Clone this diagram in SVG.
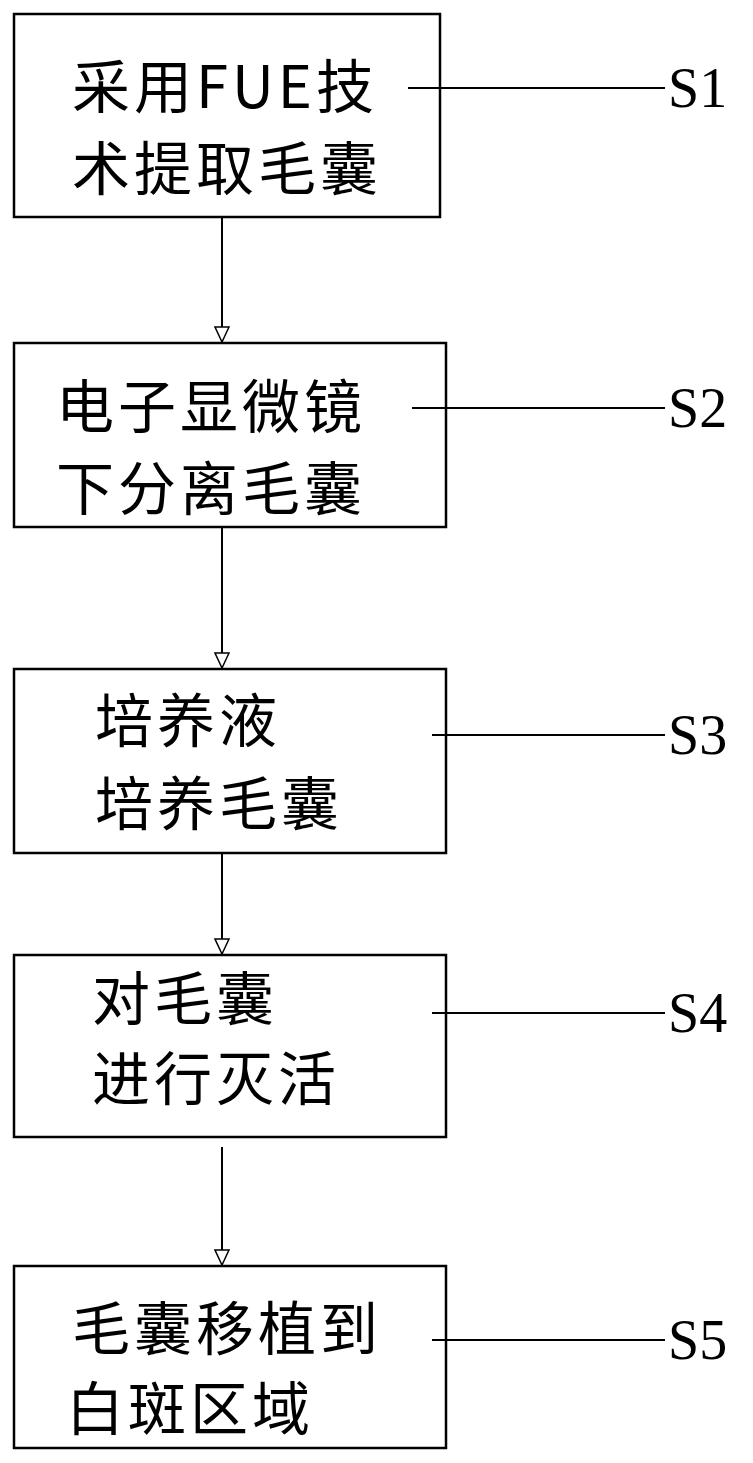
<svg xmlns="http://www.w3.org/2000/svg" width="753" height="1463" viewBox="0 0 753 1463">
<style>
.b{fill:#fff;stroke:#000;stroke-width:2.5}
.t{font-family:"Noto Sans CJK SC","Liberation Serif",serif;font-size:58px;letter-spacing:4px;fill:#000}
.s{font-family:"Liberation Serif",serif;font-size:56px;fill:#000}
.l{stroke:#000;stroke-width:2}
</style>
<defs><marker id="a" markerWidth="18" markerHeight="16" refX="16" refY="8" orient="auto" markerUnits="userSpaceOnUse"><path d="M1,1 L16,8 L1,15 Z" fill="#fff" stroke="#000" stroke-width="1.5"/></marker></defs>
<rect width="753" height="1463" fill="#fff"/>
<g id="n1"><rect class="b" x="14" y="14" width="426" height="203"/><text class="t" x="72" y="108">采用FUE技</text><text class="t" x="72" y="190">术提取毛囊</text></g>
<g id="n2"><rect class="b" x="14" y="343" width="432" height="184"/><text class="t" x="56" y="428">电子显微镜</text><text class="t" x="56" y="510">下分离毛囊</text></g>
<g id="n3"><rect class="b" x="14" y="669" width="432" height="184"/><text class="t" x="95" y="742">培养液</text><text class="t" x="95" y="825">培养毛囊</text></g>
<g id="n4"><rect class="b" x="14" y="955" width="432" height="182"/><text class="t" x="92" y="1020">对毛囊</text><text class="t" x="92" y="1100">进行灭活</text></g>
<g id="n5"><rect class="b" x="14" y="1266" width="432" height="182"/><text class="t" x="72" y="1350">毛囊移植到</text><text class="t" x="66" y="1430">白斑区域</text></g>
<g id="labels"><text class="s" x="668" y="107">S1</text><text class="s" x="668" y="427">S2</text><text class="s" x="668" y="754">S3</text><text class="s" x="668" y="1032">S4</text><text class="s" x="668" y="1359">S5</text></g>
<g id="connectors">
<line class="l" x1="222" y1="217" x2="222" y2="342" marker-end="url(#a)"/>
<line class="l" x1="222" y1="527" x2="222" y2="668" marker-end="url(#a)"/>
<line class="l" x1="222" y1="853" x2="222" y2="954" marker-end="url(#a)"/>
<line class="l" x1="222" y1="1147" x2="222" y2="1265" marker-end="url(#a)"/>
<line class="l" x1="408" y1="88" x2="665" y2="88"/>
<line class="l" x1="412" y1="408" x2="665" y2="408"/>
<line class="l" x1="432" y1="735" x2="665" y2="735"/>
<line class="l" x1="432" y1="1013" x2="665" y2="1013"/>
<line class="l" x1="432" y1="1340" x2="665" y2="1340"/>
</g>
</svg>
